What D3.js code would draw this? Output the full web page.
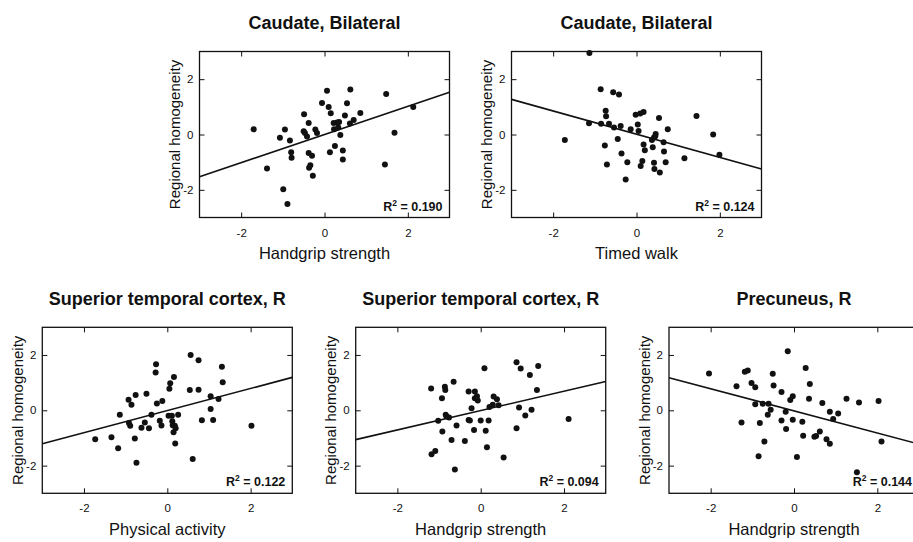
<!DOCTYPE html>
<html>
<head>
<meta charset="utf-8">
<script src="https://cdn.jsdelivr.net/npm/d3@7"></script>
<style>
  body { margin: 0; background: #fff; }
  svg { display: block; font-family: "Liberation Sans", Arial, sans-serif; }
</style>
</head>
<body>
<svg id="chart" width="913" height="542"></svg>
<script>
// tick values shared by every panel
const xTicks = [-2, 0, 2];
const yTicks = [-2, 0, 2];
const axisDomain = [-3, 3];

// panel texts
const titles = ["Caudate, Bilateral", "Caudate, Bilateral", "Superior temporal cortex, R", "Superior temporal cortex, R", "Precuneus, R"];
const xLabels = ["Handgrip strength", "Timed walk", "Physical activity", "Handgrip strength", "Handgrip strength"];
const yLabel = "Regional homogeneity";
const r2Values = ["0.190", "0.124", "0.122", "0.094", "0.144"];

// fitted lines (slope, intercept)
const slopes = [0.51, -0.42, 0.40, 0.35, -0.40];
const intercepts = [0.00, 0.01, -0.01, -0.01, -0.02];

// scatter values
const caudateGripX = [-1.70,-1.38,-1.07,-0.95,-0.99,-0.89,-0.83,-0.80,-0.79,-0.49,-0.50,-0.47,-0.42,-0.38,-0.38,-0.30,-0.34,-0.37,-0.28,-0.22,-0.18,-0.06,0.06,0.10,0.15,0.13,0.22,0.23,0.25,0.30,0.33,0.35,0.38,0.44,0.44,0.49,0.54,0.61,0.70,0.62,0.86,1.48,1.45,1.68,2.13];
const caudateGripY = [0.19,-1.23,-0.12,0.18,-1.98,-2.51,-0.22,-0.64,-0.84,0.73,0.12,0.05,-0.07,0.42,-0.67,-0.77,-1.11,-1.20,-1.49,0.18,0.05,1.14,1.58,0.99,0.77,-0.64,0.42,0.19,-0.42,0.43,0.25,0.45,-0.02,-0.58,-0.90,0.69,1.13,0.40,0.52,1.63,0.78,1.46,-1.08,0.06,0.99];

const caudateWalkX = [-1.13,-1.72,-1.14,-0.86,-0.85,-0.74,-0.73,-0.76,-0.71,-0.66,-0.56,-0.54,-0.42,-0.45,-0.38,-0.36,-0.26,-0.22,-0.14,-0.02,0.03,0.05,0.09,0.17,0.10,0.14,0.17,0.20,0.37,0.39,0.42,0.46,0.42,0.43,0.45,0.54,0.56,0.65,0.66,0.70,0.75,1.15,1.44,1.84,1.99];
const caudateWalkY = [2.95,-0.20,0.41,1.64,0.39,0.86,0.66,-0.40,-1.08,0.39,1.53,0.25,1.45,-0.16,0.31,-0.69,-1.63,-1.00,0.19,0.71,0.36,0.13,0.76,0.81,-1.14,-0.96,-0.36,-0.57,-0.20,-0.46,-0.11,0.02,-1.02,-1.25,-0.06,0.60,-1.37,-0.28,-0.61,-1.00,0.19,-0.86,0.67,0.00,-0.73];

const temporalActX = [-1.73,-1.34,-1.18,-1.14,-0.93,-0.92,-0.89,-0.86,-0.78,-0.76,-0.74,-0.62,-0.54,-0.50,-0.44,-0.38,-0.27,-0.28,-0.25,-0.18,-0.14,-0.12,0.03,0.05,0.07,0.11,0.12,0.13,0.16,0.15,0.18,0.20,0.19,0.26,0.56,0.54,0.61,0.75,0.75,0.83,1.04,1.04,1.10,1.23,1.31,1.33,2.02];
const temporalActY = [-1.05,-0.97,-1.37,-0.16,0.38,-0.46,-0.56,0.20,-1.02,0.55,-1.90,-0.63,-0.44,0.60,-0.65,-0.16,1.66,1.37,0.25,-0.38,-0.55,0.34,-0.20,0.78,0.98,-0.20,-0.40,-0.54,1.20,-0.79,-0.56,-0.65,-1.20,-0.16,2.00,0.73,-1.76,1.81,0.74,-0.36,0.51,0.05,-0.35,0.41,1.57,1.01,-0.56];

const temporalGripX = [-1.19,-1.18,-1.09,-1.02,-0.93,-0.92,-0.86,-0.85,-0.84,-0.82,-0.76,-0.70,-0.65,-0.62,-0.58,-0.38,-0.29,-0.29,-0.26,-0.22,-0.16,-0.14,-0.14,-0.09,-0.07,0.00,0.09,0.12,0.15,0.19,0.21,0.29,0.31,0.39,0.43,0.55,0.86,0.86,0.92,0.96,1.07,1.18,1.22,1.35,1.38,2.11];
const temporalGripY = [0.79,-1.59,-1.47,-0.38,0.44,-0.77,0.85,0.73,-0.16,-0.22,-0.26,-1.07,1.03,-2.14,-0.55,-1.11,0.68,-0.35,-0.37,0.07,-0.71,0.68,0.44,0.51,0.35,-0.37,1.52,-0.74,-1.34,-0.37,0.12,0.20,0.50,0.40,0.18,-1.71,1.74,-0.65,0.10,1.51,-0.19,1.28,0.02,0.73,1.60,-0.31];

const precuneusGripX = [-2.04,-1.38,-1.26,-1.18,-1.11,-1.02,-0.93,-0.93,-0.82,-0.85,-0.75,-0.71,-0.63,-0.61,-0.56,-0.51,-0.49,-0.30,-0.30,-0.20,-0.19,-0.15,-0.09,-0.03,-0.03,0.07,0.20,0.22,0.28,0.36,0.38,0.49,0.53,0.62,0.68,0.78,0.86,0.86,0.94,1.06,1.26,1.56,1.51,2.03,2.10];
const precuneusGripY = [1.33,0.87,-0.44,1.39,1.44,0.99,0.83,0.22,-0.46,-1.66,0.24,-1.13,-0.16,0.24,0.02,1.32,0.90,0.66,-0.37,-0.05,-0.68,2.13,0.37,0.51,-0.34,-1.69,-0.41,-0.92,1.53,0.42,0.95,-0.96,-0.93,-0.77,0.26,-1.05,-0.05,-1.21,-0.31,-0.12,0.42,0.28,-2.24,0.34,-1.13];

const panelX = [caudateGripX, caudateWalkX, temporalActX, temporalGripX, precuneusGripX];
const panelY = [caudateGripY, caudateWalkY, temporalActY, temporalGripY, precuneusGripY];

// layout
const plotW = 250, plotH = 166;
const origins = [[199.5, 51.5], [511.5, 51.5], [42.3, 327.3], [355.7, 327.3], [669, 327.3]];
const ink = "#111";

const svg = d3.select("#chart");
svg.append("rect").attr("width", 913).attr("height", 542).attr("fill", "#fff");

const x = d3.scaleLinear().domain(axisDomain).range([0, plotW]);
const y = d3.scaleLinear().domain(axisDomain).range([plotH, 0]);
const fmt = d => String(d);   // plain hyphen, no decimals

function drawPanel(i) {
    const g = svg.append("g").attr("transform", `translate(${origins[i][0]},${origins[i][1]})`);

    // inward ticks on all four sides
    const styleAxis = sel => {
        sel.select(".domain").remove();
        sel.selectAll("line").attr("stroke", ink).attr("stroke-width", 1);
        sel.selectAll("text").attr("fill", ink).style("font-size", "11.5px")
            .style("font-family", "'Liberation Sans', Arial, sans-serif");
    };
    g.append("g").attr("transform", `translate(0,${plotH})`)
        .call(d3.axisBottom(x).tickValues(xTicks).tickSizeInner(-5).tickSizeOuter(0).tickPadding(11).tickFormat(fmt))
        .call(styleAxis);
    g.append("g")
        .call(d3.axisTop(x).tickValues(xTicks).tickSizeInner(-5).tickSizeOuter(0).tickFormat(""))
        .call(styleAxis);
    g.append("g")
        .call(d3.axisLeft(y).tickValues(yTicks).tickSizeInner(-5).tickSizeOuter(0).tickPadding(6).tickFormat(fmt))
        .call(styleAxis);
    g.append("g").attr("transform", `translate(${plotW},0)`)
        .call(d3.axisRight(y).tickValues(yTicks).tickSizeInner(-5).tickSizeOuter(0).tickFormat(""))
        .call(styleAxis);

    // frame
    g.append("rect")
        .attr("width", plotW).attr("height", plotH)
        .attr("fill", "none").attr("stroke", ink).attr("stroke-width", 1.3);

    // regression line
    const line = d3.line().x(d => x(d)).y(d => y(slopes[i] * d + intercepts[i]));
    g.append("path")
        .datum(axisDomain)
        .attr("d", line)
        .attr("fill", "none").attr("stroke", ink).attr("stroke-width", 1.6);

    // points
    g.selectAll(".dot")
        .data(panelX[i].map((v, k) => [v, panelY[i][k]]))
        .enter()
        .append("circle")
        .attr("cx", d => x(d[0]))
        .attr("cy", d => y(d[1]))
        .attr("r", 3)
        .attr("fill", ink);

    // R squared
    const r2 = g.append("text")
        .attr("x", plotW - 7).attr("y", plotH - 7)
        .attr("text-anchor", "end")
        .style("font-size", "12.5px").style("font-weight", "bold")
        .attr("fill", ink);
    r2.append("tspan").text("R");
    r2.append("tspan").attr("dy", -5).style("font-size", "8.5px").text("2");
    r2.append("tspan").attr("dy", 5).text(" = " + r2Values[i]);

    // titles and labels
    g.append("text")
        .attr("x", plotW / 2).attr("y", -22.5)
        .attr("text-anchor", "middle")
        .style("font-size", "18px").style("font-weight", "bold")
        .attr("fill", ink)
        .text(titles[i]);
    g.append("text")
        .attr("x", plotW / 2).attr("y", plotH + 41.5)
        .attr("text-anchor", "middle")
        .style("font-size", "16.5px")
        .attr("fill", ink)
        .text(xLabels[i]);
    g.append("text")
        .attr("transform", "rotate(-90)")
        .attr("x", -plotH / 2).attr("y", -19.5)
        .attr("text-anchor", "middle")
        .style("font-size", "15px")
        .attr("fill", ink)
        .text(yLabel);
}

titles.forEach((t, i) => drawPanel(i));
</script>
</body>
</html>
